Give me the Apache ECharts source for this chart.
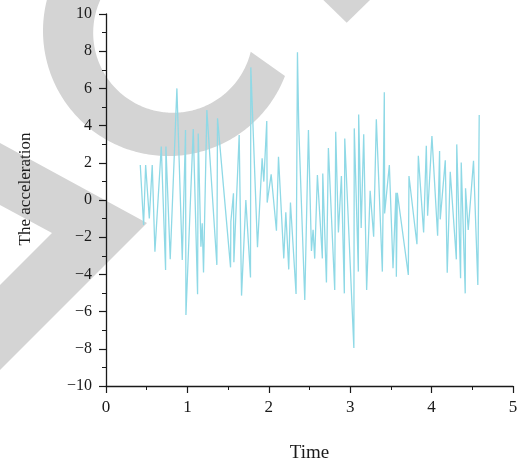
<!DOCTYPE html>
<html>
<head>
<meta charset="utf-8">
<script src="https://cdn.jsdelivr.net/npm/echarts@6/dist/echarts.min.js"></script>
<style>
  html, body { margin: 0; padding: 0; background: #ffffff; }
  #chart { width: 521px; height: 470px; }
</style>
</head>
<body>
<div id="chart"></div>
<script>
// Sampled acceleration signal: time stamps and values
const timeValues = [
  0.421, 0.462, 0.487, 0.532, 0.568, 0.601, 0.679, 0.732, 0.736, 0.789,
  0.871, 0.937, 0.977, 0.982, 1.072, 1.125, 1.133, 1.166, 1.182, 1.198,
  1.239, 1.362, 1.370, 1.530, 1.534, 1.566, 1.571, 1.636, 1.665, 1.718,
  1.775, 1.779, 1.861, 1.918, 1.939, 1.975, 1.980, 2.029, 2.094, 2.119,
  2.184, 2.209, 2.245, 2.266, 2.335, 2.352, 2.368, 2.442, 2.487, 2.524,
  2.544, 2.564, 2.597, 2.658, 2.663, 2.708, 2.732, 2.810, 2.822, 2.855,
  2.892, 2.928, 2.933, 3.045, 3.050, 3.100, 3.104, 3.135, 3.166, 3.202,
  3.245, 3.288, 3.321, 3.395, 3.419, 3.423, 3.481, 3.526, 3.562, 3.567,
  3.579, 3.714, 3.722, 3.820, 3.837, 3.902, 3.935, 3.951, 4.004, 4.074,
  4.098, 4.106, 4.168, 4.192, 4.229, 4.304, 4.309, 4.356, 4.364, 4.413,
  4.417, 4.450, 4.515, 4.568, 4.585
];
const accelValues = [
  1.88, -1.34, 1.88, -0.99, 1.88, -2.78, 2.87, -3.76, 2.87, -3.19,
  6.00, -3.23, 3.76, -6.18, 3.82, -5.07, 3.58, -2.51, -1.25, -3.90,
  4.84, -3.49, 4.39, -3.62, -1.16, 0.36, -3.35, 3.49, -5.14, 0.00,
  -4.17, 7.13, -2.54, 2.24, 0.99, 4.25, -0.14, 1.38, -1.65, 2.33,
  -3.14, -0.66, -3.73, -0.13, -5.05, 7.94, 3.91, -5.38, 3.76, -2.74,
  -1.60, -3.15, 1.34, -3.14, 1.43, -4.43, 2.80, -4.84, 3.67, -1.74,
  1.29, -5.02, 3.31, -7.96, 3.85, -3.85, 4.60, -1.50, 3.53, -4.84,
  0.50, -1.97, 4.34, -3.85, 5.79, -0.72, 1.88, -3.67, 0.39, -4.12,
  0.39, -4.03, 1.29, -2.38, 2.38, -1.74, 2.92, -0.84, 3.44, -1.92,
  2.63, -1.04, 2.13, -3.91, 1.52, -3.19, 2.99, -4.21, 2.01, -5.02,
  0.63, -1.61, 2.11, -4.57, 4.57
];

// Axis ranges and labels
const xRange = [0, 5];
const xStep = 1;
const yRange = [-10, 10];
const yStep = 2;
const xTitle = 'Time';
const yTitle = 'The acceleration';

const serif = '"Liberation Serif", "DejaVu Serif", serif';
const ink = '#1a1a1a';
const shade = '#d4d4d4';

// Background shapes drawn behind the plot
function ringPoints() {
  const pts = [];
  const oc = [168.2, 30.85], orad = 125.2;
  const ic = [173.1, 32.85], irad = 79.9;
  const a0 = 21.13, a1 = 260, b0 = 13.65;
  for (let a = a0; a <= a1; a += 1) {
    const r = a * Math.PI / 180;
    pts.push([oc[0] + orad * Math.cos(r), oc[1] + orad * Math.sin(r)]);
  }
  for (let a = a1; a >= b0; a -= 1) {
    const r = a * Math.PI / 180;
    pts.push([ic[0] + irad * Math.cos(r), ic[1] + irad * Math.sin(r)]);
  }
  const rEnd = b0 * Math.PI / 180;
  pts.push([ic[0] + irad * Math.cos(rEnd), ic[1] + irad * Math.sin(rEnd)]);
  return pts;
}

const chart = echarts.init(document.getElementById('chart'), null, { renderer: 'canvas' });

const option = {
  animation: false,
  backgroundColor: '#ffffff',
  grid: { left: 106, right: 8, top: 14, bottom: 84, containLabel: false },
  graphic: [
    { type: 'polygon', z: -10, silent: true, shape: { points: ringPoints() }, style: { fill: shade } },
    { type: 'polygon', z: -10, silent: true,
      shape: { points: [[318.2, -5], [346.7, 22.7], [375.1, -5]] }, style: { fill: shade } },
    { type: 'polygon', z: -10, silent: true,
      shape: { points: [[0, 143], [147, 223], [0, 370], [0, 285], [52, 233], [0, 205]] },
      style: { fill: shade } },
    { type: 'text', z: 10, silent: true, x: 26, y: 189, rotation: Math.PI / 2,
      style: { text: yTitle, font: '17px ' + serif, fill: ink, align: 'center', verticalAlign: 'middle' } }
  ],
  xAxis: {
    type: 'value',
    min: xRange[0], max: xRange[1], interval: xStep,
    name: xTitle,
    nameLocation: 'middle',
    nameGap: 58,
    nameTextStyle: { fontFamily: serif, fontSize: 19, color: ink },
    axisLine: { show: true, onZero: false, lineStyle: { color: ink, width: 1.3 } },
    axisTick: { show: true, inside: false, length: 7, lineStyle: { color: ink, width: 1.2 } },
    minorTick: { show: true, splitNumber: 2, length: 4, lineStyle: { color: ink, width: 1 } },
    axisLabel: { margin: 13, fontFamily: serif, fontSize: 17, color: ink },
    splitLine: { show: false }
  },
  yAxis: {
    type: 'value',
    min: yRange[0], max: yRange[1], interval: yStep,
    axisLine: { show: true, onZero: false, lineStyle: { color: ink, width: 1.3 } },
    axisTick: { show: true, inside: false, length: 7, lineStyle: { color: ink, width: 1.2 } },
    minorTick: { show: true, splitNumber: 2, length: 4, lineStyle: { color: ink, width: 1 } },
    axisLabel: {
      margin: 14, fontFamily: serif, fontSize: 16, color: ink,
      formatter: v => String(v).replace('-', '\u2212')
    },
    splitLine: { show: false }
  },
  series: [{
    type: 'line',
    data: timeValues.map((t, i) => [t, accelValues[i]]),
    showSymbol: false,
    symbol: 'none',
    lineStyle: { color: '#8fd9e6', width: 1.3 },
    z: 2
  }]
};

chart.setOption(option);
</script>
</body>
</html>
